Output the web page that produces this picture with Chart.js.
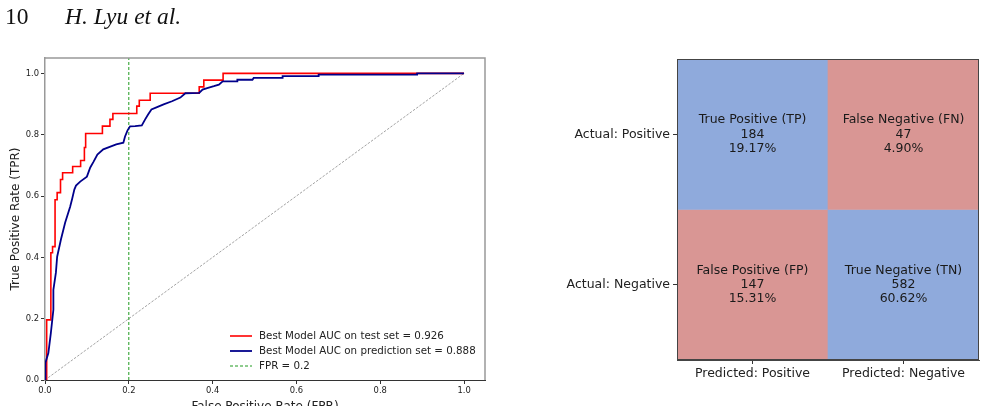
<!DOCTYPE html>
<html><head><meta charset="utf-8">
<script src="https://cdn.jsdelivr.net/npm/chart.js@4/dist/chart.umd.min.js"></script>
<style>
html,body{margin:0;padding:0;background:#fff;overflow:hidden;width:986px;height:406px;position:relative}
.hd{position:absolute;top:5px;font-family:"Liberation Serif","Times New Roman",serif;font-size:23.5px;line-height:22.5px;color:#111;white-space:nowrap;z-index:2}
#pg{left:5px}
#au{left:65px;font-style:italic}
#roc{position:absolute;left:0;top:0}
#cm{position:absolute;left:560px;top:0}
</style></head><body>
<canvas id="roc" width="500" height="420"></canvas>
<canvas id="cm" width="426" height="406"></canvas>
<div class="hd" id="pg">10</div><div class="hd" id="au">H. Lyu et al.</div>
<script>
// ---------- ROC data ----------
const testLabel = 'Best Model AUC on test set = 0.926';
const predLabel = 'Best Model AUC on prediction set = 0.888';
const fprLabel = 'FPR = 0.2';
const fprThreshold = 0.2;
const testFpr = [0, 0.004, 0.014, 0.018, 0.024, 0.029, 0.037, 0.042, 0.066, 0.085, 0.094, 0.097, 0.137, 0.155, 0.162, 0.219, 0.225, 0.251, 0.368, 0.379, 0.425, 1.0];
const testTpr = [0, 0.196, 0.415, 0.435, 0.588, 0.611, 0.654, 0.676, 0.696, 0.716, 0.758, 0.804, 0.828, 0.850, 0.869, 0.893, 0.912, 0.935, 0.956, 0.978, 1.0, 1.0];
const predFpr = [0, 0, 0.002, 0.008, 0.014, 0.020, 0.020, 0.026, 0.029, 0.038, 0.048, 0.060, 0.065, 0.070, 0.074, 0.084, 0.100, 0.108, 0.116, 0.125, 0.139, 0.156, 0.170, 0.187, 0.191, 0.197, 0.203, 0.215, 0.231, 0.239, 0.246, 0.254, 0.266, 0.283, 0.303, 0.323, 0.335, 0.368, 0.376, 0.387, 0.403, 0.415, 0.424, 0.459, 0.459, 0.495, 0.498, 0.567, 0.567, 0.653, 0.653, 0.888, 0.888, 1.0];
const predTpr = [0, 0.033, 0.056, 0.088, 0.154, 0.229, 0.294, 0.350, 0.402, 0.458, 0.513, 0.565, 0.592, 0.621, 0.634, 0.647, 0.663, 0.693, 0.712, 0.735, 0.752, 0.761, 0.768, 0.774, 0.794, 0.814, 0.827, 0.828, 0.830, 0.850, 0.866, 0.882, 0.889, 0.899, 0.909, 0.921, 0.935, 0.936, 0.947, 0.952, 0.958, 0.963, 0.974, 0.974, 0.979, 0.979, 0.985, 0.985, 0.991, 0.991, 0.996, 0.996, 1.0, 1.0];
const xTicks = [0.0, 0.2, 0.4, 0.6, 0.8, 1.0];
const yTicks = [0.0, 0.2, 0.4, 0.6, 0.8, 1.0];

// ---------- Confusion matrix data ----------
const rowLabels = ['Actual: Positive', 'Actual: Negative'];
const colLabels = ['Predicted: Positive', 'Predicted: Negative'];
const cellNames = [['True Positive (TP)', 'False Negative (FN)'], ['False Positive (FP)', 'True Negative (TN)']];
const cellCounts = [[184, 47], [147, 582]];
const cellPercents = [['19.17%', '4.90%'], ['15.31%', '60.62%']];

const FONT = "'DejaVu Sans', 'Noto Sans', sans-serif";
Chart.defaults.font.family = FONT;
const pts = (xs, ys) => xs.map((x, i) => ({x: x, y: ys[i]}));

const rocFrame = {
  id: 'rocFrame',
  afterDraw(chart) {
    const {ctx, chartArea: a} = chart;
    ctx.save();
    ctx.strokeStyle = '#999'; ctx.lineWidth = 1.5;
    ctx.beginPath();
    ctx.moveTo(a.left, a.top); ctx.lineTo(a.right, a.top); ctx.lineTo(a.right, a.bottom);
    ctx.stroke();
    // legend
    const ds = chart.data.datasets.slice(0, 3);
    ctx.font = '10.3px ' + FONT; ctx.fillStyle = '#222'; ctx.textBaseline = 'middle'; ctx.textAlign = 'left';
    ds.forEach((d, i) => {
      const y = 336 + i * 15;
      ctx.beginPath();
      ctx.strokeStyle = d.borderColor; ctx.lineWidth = d.borderWidth;
      ctx.setLineDash(d.borderDash || []);
      ctx.moveTo(230, y); ctx.lineTo(252, y); ctx.stroke();
      ctx.setLineDash([]);
      ctx.fillText(d.label, 259, y);
    });
    ctx.restore();
  }
};

new Chart(document.getElementById('roc'), {
  type: 'scatter',
  data: { datasets: [
    {label: testLabel, data: pts(testFpr, testTpr), borderColor: '#ff0000', borderWidth: 1.6, showLine: true, stepped: 'before', pointRadius: 0, order: 1},
    {label: predLabel, data: pts(predFpr, predTpr), borderColor: '#00008b', borderWidth: 1.8, showLine: true, pointRadius: 0, order: 0},
    {label: fprLabel, data: [{x: fprThreshold, y: 0}, {x: fprThreshold, y: 1.05}], borderColor: '#1f9a1f', borderWidth: 1, borderDash: [3, 2], showLine: true, pointRadius: 0, order: 2},
    {label: 'chance', data: [{x: 0, y: 0}, {x: 1, y: 1}], borderColor: '#8c8c8c', borderWidth: 0.8, borderDash: [2.5, 1.5], showLine: true, pointRadius: 0, order: 3}
  ]},
  options: {
    responsive: false, animation: false, devicePixelRatio: 1,
    layout: {padding: {top: 58, right: 15, left: 0, bottom: 0}},
    plugins: {legend: {display: false}, tooltip: {enabled: false}},
    scales: {
      x: {type: 'linear', min: 0, max: 1.05,
        afterBuildTicks: s => { s.ticks = xTicks.map(v => ({value: v})); },
        afterFit: s => { s.height = 40; },
        ticks: {font: {size: 8.4}, color: '#222', padding: 2, maxRotation: 0, autoSkip: false, callback: v => Number(v).toFixed(1)},
        grid: {drawOnChartArea: false, drawTicks: true, tickLength: 4, tickColor: '#333'},
        border: {display: true, color: '#333', width: 1},
        title: {display: true, text: 'False Positive Rate (FPR)', font: {size: 12}, color: '#222', padding: {top: 0, bottom: 6}}},
      y: {type: 'linear', min: 0, max: 1.05,
        afterBuildTicks: s => { s.ticks = yTicks.map(v => ({value: v})); },
        afterFit: s => { s.width = 45; },
        ticks: {font: {size: 8.4}, color: '#222', padding: 2, autoSkip: false, callback: v => Number(v).toFixed(1)},
        grid: {drawOnChartArea: false, drawTicks: true, tickLength: 4, tickColor: '#333'},
        border: {display: true, color: '#999', width: 1.5},
        title: {display: true, text: 'True Positive Rate (TPR)', font: {size: 12}, color: '#222', padding: {top: 9, bottom: 0}}}
    }
  },
  plugins: [rocFrame]
});

const BLUE = '#8faadc', RED = '#d99694';
const cmText = {
  id: 'cmText',
  afterDatasetsDraw(chart) {
    const {ctx, chartArea: a} = chart;
    const xs = chart.scales.x, ys = chart.scales.y;
    ctx.save();
    ctx.font = '12.5px ' + FONT; ctx.fillStyle = '#1a1a1a'; ctx.textAlign = 'center'; ctx.textBaseline = 'middle';
    rowLabels.forEach((r, i) => {
      colLabels.forEach((c, j) => {
        const cx = xs.getPixelForValue(j), cy = ys.getPixelForValue(1.5 - i);
        const lines = [cellNames[i][j], String(cellCounts[i][j]), cellPercents[i][j]];
        lines.forEach((t, k) => ctx.fillText(t, cx, cy + (k - 1) * 14.3));
      });
    });
    ctx.strokeStyle = '#444'; ctx.lineWidth = 1;
    ctx.strokeRect(Math.round(a.left) + 0.5, Math.round(a.top) + 0.5, Math.round(a.right - a.left) - 1, Math.round(a.bottom - a.top) - 1);
    ctx.restore();
  }
};

new Chart(document.getElementById('cm'), {
  type: 'bar',
  data: {
    labels: colLabels,
    datasets: rowLabels.map((r, i) => ({
      label: r,
      data: colLabels.map(() => [1 - i, 2 - i]),
      backgroundColor: colLabels.map((c, j) => i === j ? BLUE : RED),
      borderWidth: 0, grouped: false, barPercentage: 1, categoryPercentage: 1
    }))
  },
  options: {
    responsive: false, animation: false, devicePixelRatio: 1,
    layout: {padding: {top: 59, right: 7, left: 0, bottom: 0}},
    plugins: {legend: {display: false}, tooltip: {enabled: false}},
    scales: {
      x: {afterFit: s => { s.height = 46; },
        ticks: {font: {size: 12.5}, color: '#222', padding: 2, maxRotation: 0},
        grid: {offset: false, drawOnChartArea: false, drawTicks: true, tickLength: 4, tickColor: '#333'},
        border: {display: true, color: '#444', width: 1}},
      y: {type: 'linear', min: 0, max: 2,
        afterBuildTicks: s => { s.ticks = [{value: 1.5}, {value: 0.5}]; },
        afterFit: s => { s.width = 117; },
        ticks: {font: {size: 12.5}, color: '#222', padding: 3, autoSkip: false, callback: v => rowLabels[Math.round(1.5 - v)]},
        grid: {drawOnChartArea: false, drawTicks: true, tickLength: 4, tickColor: '#333'},
        border: {display: true, color: '#444', width: 1}}
    }
  },
  plugins: [cmText]
});
</script>
</body></html>
